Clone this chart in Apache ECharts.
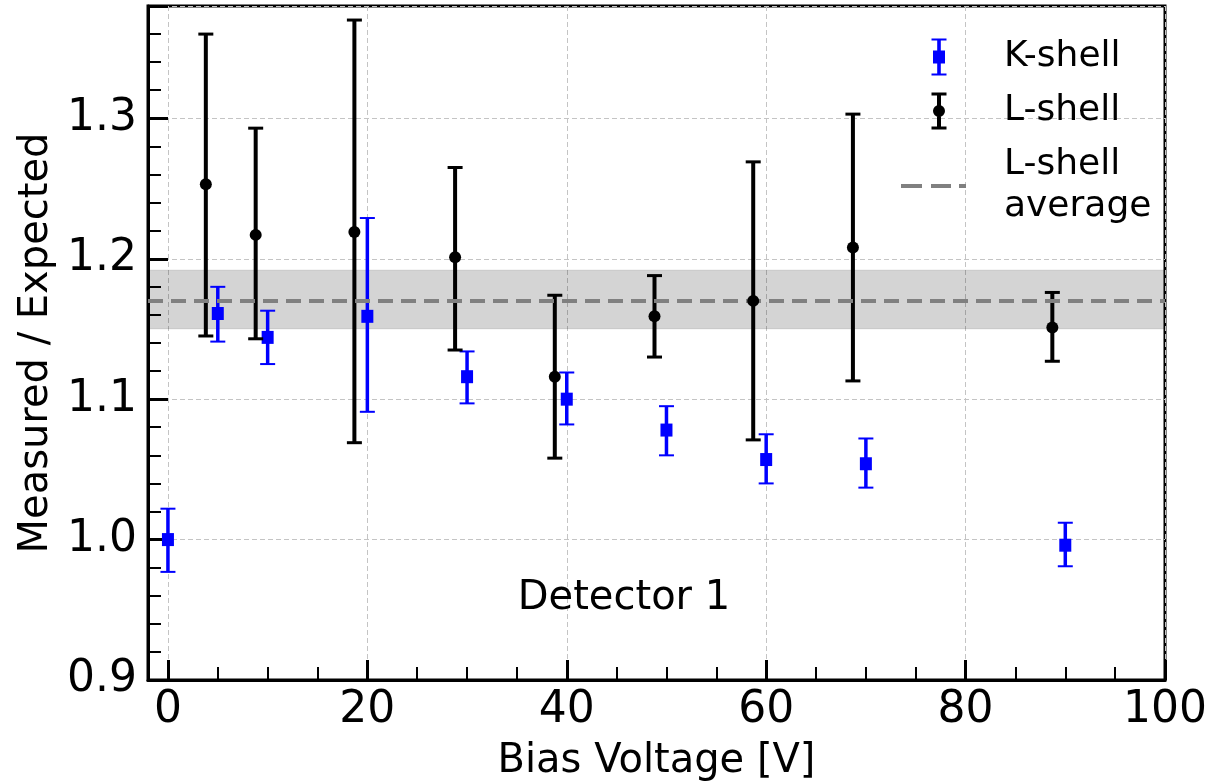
<!DOCTYPE html>
<html><head><meta charset="utf-8">
<script src="https://cdn.jsdelivr.net/npm/echarts@6/dist/echarts.min.js"></script>
<style>html,body{margin:0;padding:0;background:#fff}#c{width:1216px;height:781px}</style>
</head><body><div id="c"></div>
<script>
// ---- data ----
const kX  = [0, 5, 10, 20, 30, 40, 50, 60, 70, 90];
const kY  = [1.000, 1.161, 1.144, 1.159, 1.116, 1.100, 1.078, 1.057, 1.054, 0.996];
const kLo = [0.977, 1.141, 1.125, 1.091, 1.097, 1.082, 1.060, 1.040, 1.037, 0.981];
const kHi = [1.022, 1.180, 1.163, 1.229, 1.134, 1.119, 1.095, 1.075, 1.072, 1.012];

const lX  = [3.8, 8.8, 18.7, 28.8, 38.8, 48.8, 58.7, 68.7, 88.7];
const lY  = [1.253, 1.217, 1.219, 1.201, 1.116, 1.159, 1.170, 1.208, 1.151];
const lLo = [1.145, 1.143, 1.069, 1.135, 1.058, 1.130, 1.071, 1.113, 1.127];
const lHi = [1.360, 1.293, 1.370, 1.265, 1.174, 1.188, 1.269, 1.303, 1.176];

const lAvg = 1.171;
const lBand = [1.150, 1.192];

const xRange = [-2, 100];
const yRange = [0.9, 1.38];
const xMajorTicks = [0, 20, 40, 60, 80, 100];
const yMajorTicks = [0.9, 1.0, 1.1, 1.2, 1.3];
const annotation = 'Detector 1';

// ---- chart ----
const FONT = '"DejaVu Sans", "Liberation Sans", sans-serif';
const chart = echarts.init(document.getElementById('c'), null, {renderer: 'canvas'});

function errorBars(name, xs, lo, hi, color, stemW, capW, z) {
  return {
    type: 'custom', name: name, z: z, silent: true,
    data: xs.map((x, i) => [x, lo[i], hi[i]]),
    encode: {x: 0, y: [1, 2]},
    renderItem: function (params, api) {
      const x = api.value(0);
      const pLo = api.coord([x, api.value(1)]);
      const pHi = api.coord([x, api.value(2)]);
      const h = 7.5;
      return {type: 'group', children: [
        {type: 'line', shape: {x1: pLo[0], y1: pLo[1], x2: pHi[0], y2: pHi[1]}, style: {stroke: color, lineWidth: stemW}},
        {type: 'line', shape: {x1: pLo[0] - h, y1: pLo[1], x2: pLo[0] + h, y2: pLo[1]}, style: {stroke: color, lineWidth: capW}},
        {type: 'line', shape: {x1: pHi[0] - h, y1: pHi[1], x2: pHi[0] + h, y2: pHi[1]}, style: {stroke: color, lineWidth: capW}}
      ]};
    }
  };
}

const corners = 'M0,0h0.01v0.01h-0.01z M97.99,37.99h0.01v0.01h-0.01z ';
const iconK = 'path://' + corners + 'M30.5,0.5h15v2h-15z M36.2,0.5h3.6v37h-3.6z M32,12.5h12v13h-12z M30.5,35.5h15v2h-15z';
const iconL = 'path://' + corners + 'M30.5,0.5h15v3h-15z M36,0.5h4v37h-4z M32,19a6,6 0 1,1 12,0a6,6 0 1,1 -12,0z M30.5,34.5h15v3h-15z';
const iconAvg = 'path://' + corners + 'M0,17h21v4h-21z M30,17h20v4h-20z M58,17h7v4h-7z';

const gridLine = {show: true, lineStyle: {color: '#c4c4c4', width: 1, type: [5, 3]}};

const option = {
  backgroundColor: '#fff',
  animation: false,
  grid: {left: 148, right: 51, top: 6, bottom: 101, containLabel: false, outerBoundsMode: 'none',
    show: true, borderColor: '#000', borderWidth: 3, backgroundColor: 'transparent'},
  legend: {
    orient: 'vertical', left: 896, top: 31, itemWidth: 98, itemHeight: 38, itemGap: 12,
    selectedMode: false,
    itemStyle: {borderWidth: 0, opacity: 1},
    textStyle: {fontFamily: FONT, fontSize: 36, color: '#000', lineHeight: 42},
    formatter: n => n === 'L-shell average' ? 'L-shell\naverage' : n,
    data: [
      {name: 'K-shell', icon: iconK, itemStyle: {color: '#0000ff', borderWidth: 0, opacity: 1}},
      {name: 'L-shell', icon: iconL, itemStyle: {color: '#000000', borderWidth: 0, opacity: 1}},
      {name: 'L-shell average', icon: iconAvg, itemStyle: {color: '#808080', borderWidth: 0, opacity: 1}}
    ]
  },
  xAxis: [{
    type: 'value', min: xRange[0], max: xRange[1], position: 'bottom',
    axisLine: {show: true, onZero: false, lineStyle: {color: '#000', width: 3}},
    axisTick: {show: true, inside: true, length: 20, lineStyle: {color: '#000', width: 3}},
    axisLabel: {fontFamily: FONT, fontSize: 44, color: '#000', margin: 9,
      formatter: v => xMajorTicks.some(t => Math.abs(t - v) < 1e-9) ? String(v) : ''},
    splitLine: gridLine,
    name: 'Bias Voltage [V]', nameLocation: 'middle', nameGap: 62,
    nameTextStyle: {fontFamily: FONT, fontSize: 40, color: '#000'}
  }, {
    type: 'value', min: xRange[0], max: xRange[1], position: 'bottom', splitNumber: 20,
    axisLine: {show: false, onZero: false},
    axisTick: {show: true, inside: true, length: 13, lineStyle: {color: '#000', width: 2}},
    axisLabel: {show: false}, splitLine: {show: false}
  }],
  yAxis: [{
    type: 'value', min: yRange[0], max: yRange[1], interval: 0.1, position: 'left',
    axisLine: {show: true, onZero: false, lineStyle: {color: '#000', width: 3}},
    axisTick: {show: true, inside: true, length: 20, lineStyle: {color: '#000', width: 3}},
    axisLabel: {fontFamily: FONT, fontSize: 44, color: '#000', margin: 11,
      formatter: v => yMajorTicks.some(t => Math.abs(t - v) < 1e-9) ? v.toFixed(1) : ''},
    splitLine: {show: true, lineStyle: {color: '#c4c4c4', width: 1, type: [5, 3]}},
    name: 'Measured / Expected', nameLocation: 'middle', nameGap: 74,
    nameTextStyle: {fontFamily: FONT, fontSize: 40, color: '#000'}
  }, {
    type: 'value', min: yRange[0], max: yRange[1], interval: 0.02, position: 'left',
    axisLine: {show: false, onZero: false},
    axisTick: {show: true, inside: true, length: 13, lineStyle: {color: '#000', width: 2}},
    axisLabel: {show: false}, splitLine: {show: false}
  }],
  series: [
    {
      type: 'line', name: 'L-shell average', data: [], color: '#808080', z: 1, silent: true,
      markArea: {silent: true, itemStyle: {color: 'rgba(0,0,0,0.17)', borderColor: 'rgba(0,0,0,0.08)', borderWidth: 1},
        data: [[{yAxis: lBand[0]}, {yAxis: lBand[1]}]]},
      markLine: {silent: true, symbol: ['none', 'none'], label: {show: false},
        lineStyle: {color: '#808080', width: 4, type: [15, 8]},
        data: [{yAxis: lAvg}]}
    },
    errorBars('K-shell err', kX, kLo, kHi, '#0000ff', 3.5, 2, 2),
    {type: 'scatter', name: 'K-shell', z: 3, symbol: 'rect', symbolSize: [12, 13], itemStyle: {color: '#0000ff', opacity: 1},
      data: kX.map((x, i) => [x, kY[i]])},
    errorBars('L-shell err', lX, lLo, lHi, '#000000', 4, 3, 4),
    {type: 'scatter', name: 'L-shell', z: 5, symbol: 'circle', symbolSize: 12, itemStyle: {color: '#000000', opacity: 1},
      data: lX.map((x, i) => [x, lY[i]])}
  ],
  graphic: [{
    type: 'text', x: 624, y: 599, z: 10,
    style: {text: annotation, fontFamily: FONT, fontSize: 40, fill: '#000', textAlign: 'center', textVerticalAlign: 'middle'}
  }]
};
chart.setOption(option);
</script>
</body></html>
